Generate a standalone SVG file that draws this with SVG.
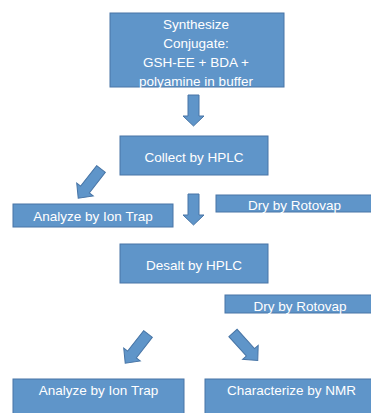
<svg xmlns="http://www.w3.org/2000/svg" width="371" height="413" viewBox="0 0 371 413">
<defs>
<style>
.box{fill:#5f95c9;stroke:#4875a6;stroke-width:1}
.arr{fill:#5f95c9;stroke:#4875a6;stroke-width:1}
text{font-family:"Liberation Sans",Arial,sans-serif;font-size:13.5px;fill:#ffffff;text-anchor:middle}
</style>
<path id="a31" d="M-5.5,0 L5.5,0 L5.5,21 L10.5,21 L0,31 L-10.5,21 L-5.5,21 Z"/>
<path id="a37" d="M-5.5,0 L5.5,0 L5.5,26 L10.5,26 L0,37 L-10.5,26 L-5.5,26 Z"/>
</defs>
<g id="connectors">
<use href="#a31" class="arr" transform="translate(193.5,95)"/>
<use href="#a37" class="arr" transform="translate(101,169) rotate(38)"/>
<use href="#a31" class="arr" transform="translate(193.5,194)"/>
<use href="#a37" class="arr" transform="translate(148,334) rotate(38)"/>
<use href="#a37" class="arr" transform="translate(233,333) rotate(-42)"/>
</g>
<g id="synthesize">
<rect class="box" x="110" y="13" width="174" height="74"/>
<text x="196" y="29">Synthesize</text>
<text x="196" y="48">Conjugate:</text>
<text x="196" y="67">GSH-EE + BDA +</text>
<text x="196" y="86">polyamine in buffer</text>
</g>
<g id="collect">
<rect class="box" x="120" y="136" width="148" height="39"/>
<text x="194" y="162">Collect by HPLC</text>
</g>
<g id="analyze1">
<rect class="box" x="13" y="204" width="160" height="23"/>
<text x="93" y="221">Analyze by Ion Trap</text>
</g>
<g id="dry1">
<rect class="box" x="216" y="195" width="157" height="17"/>
<text x="294.5" y="210">Dry by Rotovap</text>
</g>
<g id="desalt">
<rect class="box" x="120" y="244" width="148" height="39"/>
<text x="194" y="270">Desalt by HPLC</text>
</g>
<g id="dry2">
<rect class="box" x="225" y="295" width="150" height="18"/>
<text x="300" y="311">Dry by Rotovap</text>
</g>
<g id="analyze2">
<rect class="box" x="13" y="379" width="171" height="40"/>
<text x="98.5" y="395">Analyze by Ion Trap</text>
</g>
<g id="nmr">
<rect class="box" x="205" y="379" width="173" height="40"/>
<text x="291.5" y="395">Characterize by NMR</text>
</g>
</svg>
